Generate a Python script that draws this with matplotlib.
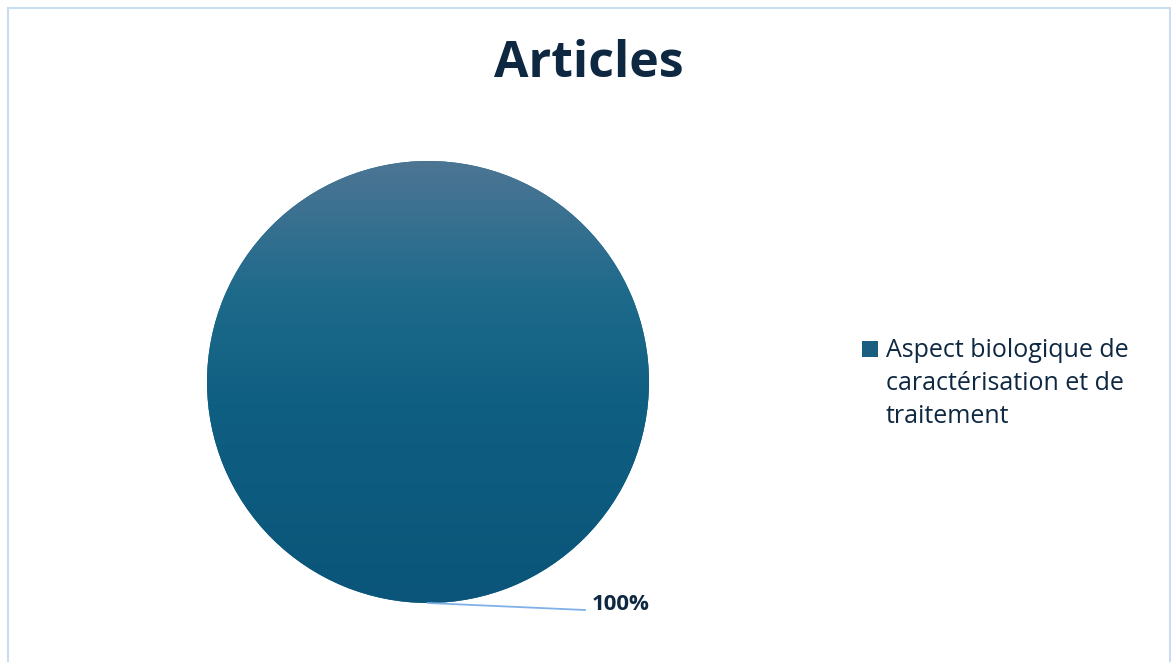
import numpy as np
import matplotlib
matplotlib.use("Agg")
import matplotlib.pyplot as plt
from matplotlib.colors import LinearSegmentedColormap
from matplotlib.patches import Rectangle

# ---- data ----
categories = ["Aspect biologique de\ncaractérisation et de\ntraitement"]
values = [100]
title = "Articles"

W, H = 1171, 662
DPI = 100
TXT = "#0e2841"
plt.rcParams['font.family'] = ['Open Sans', 'DejaVu Sans']

fig = plt.figure(figsize=(W / DPI, H / DPI), dpi=DPI)
fig.patch.set_facecolor("white")

# border (light blue, open at the bottom)
fig.add_artist(Rectangle((7.5 / W, -0.1), (1169.5 - 7.5) / W, 1.1 - 7.5 / H,
                         transform=fig.transFigure, fill=False,
                         edgecolor="#cadcf0", linewidth=1.5))

# pie axes: center (428, 382), radius 221 px
cx, cy, r = 428, 382, 221
ax = fig.add_axes([(cx - r) / W, (H - cy - r) / H, 2 * r / W, 2 * r / H])
wedges, _ = ax.pie(values, radius=1, startangle=270, counterclock=False,
                   colors=["#0f5f82"], wedgeprops=dict(linewidth=0))
ax.set_xlim(-1, 1)
ax.set_ylim(-1, 1)
ax.set_aspect("auto")
ax.axis("off")

# vertical gradient fill clipped to the wedge
cmap = LinearSegmentedColormap.from_list(
    "g", [(0.0, "#0a5579"), (0.45, "#0f5f82"), (0.7, "#1e6a8b"), (1.0, "#4d7594")])
grad = np.linspace(0, 1, 256).reshape(-1, 1)
for w in wedges:
    im = ax.imshow(grad, cmap=cmap, origin="lower", extent=[-1, 1, -1, 1],
                   aspect="auto", zorder=3)
    im.set_clip_path(w)

# data label with leader line
total = sum(values)
pct = f"{values[0] / total * 100:.0f}%"
ax.plot([0, (585 - cx) / r], [-1, -(610 - cy) / r], color="#80b2e8",
        linewidth=1.3, clip_on=False, zorder=4)
ax.text((592 - cx) / r, -(604 - cy) / r, pct, fontsize=16, fontweight="bold",
        color=TXT, ha="left", va="center", clip_on=False)

# title
fig.text(589 / W, 1 - 64 / H, title, fontsize=36, fontweight="bold",
         color=TXT, ha="center", va="center")

# legend (manual)
fig.add_artist(Rectangle((862 / W, 1 - 357 / H), 16 / W, 16 / H,
                         transform=fig.transFigure, facecolor="#1a5f80",
                         edgecolor="none"))
fig.text(886 / W, 1 - 338 / H, categories[0], fontsize=18, color=TXT,
         ha="left", va="top", linespacing=1.42)

fig.savefig("out.png", dpi=DPI, facecolor="white")
